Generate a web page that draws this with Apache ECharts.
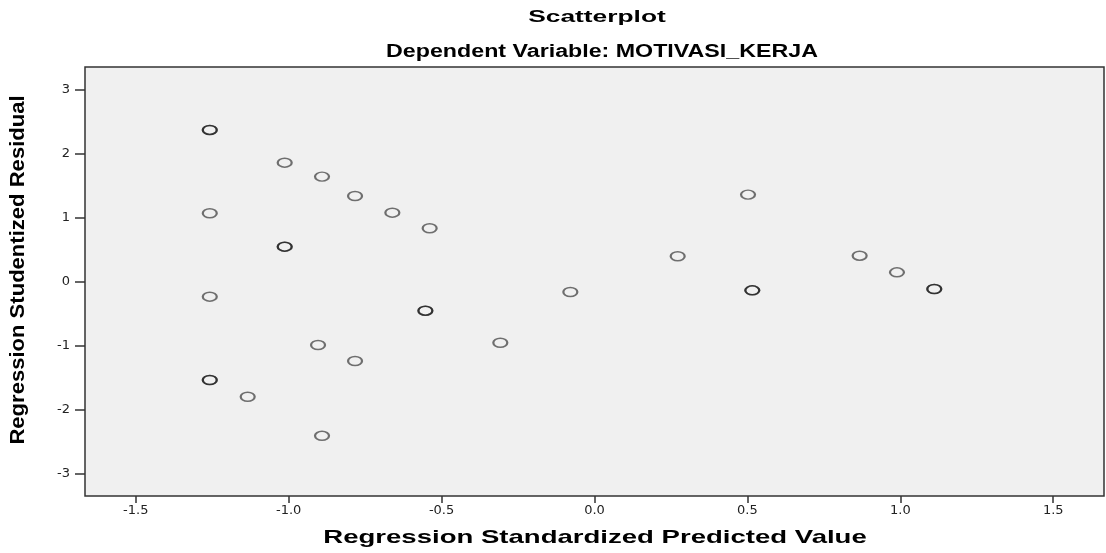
<!DOCTYPE html>
<html>
<head>
<meta charset="utf-8">
<title>Scatterplot</title>
<script src="https://cdn.jsdelivr.net/npm/echarts@6/dist/echarts.min.js"></script>
<style>
  html, body { margin: 0; padding: 0; background: #fff; }
  #chart { width: 1106px; height: 553px; }
</style>
</head>
<body>
<div id="chart"></div>
<script>
// values (repeated pairs = overlapping cases, drawn darker)
const predicted = [
  -1.258, -1.258, -1.258, -1.258, -1.258, -1.258, -1.134,
  -1.013, -0.891, -0.783, -0.661, -0.539, -1.013, -1.013,
  -0.553, -0.553, -0.904, -0.783, -0.308, -0.891,
  -0.079, 0.272, 0.502, 0.516, 0.516, 0.867, 0.989, 1.111, 1.111
];
const residual = [
  2.367, 2.367, 1.066, -0.237, -1.539, -1.539, -1.800,
  1.856, 1.638, 1.336, 1.075, 0.831, 0.544, 0.544,
  -0.456, -0.456, -0.992, -1.242, -0.956, -2.410,
  -0.164, 0.394, 1.357, -0.138, -0.138, 0.403, 0.143, -0.117, -0.117
];
const xTicks = [-1.5, -1.0, -0.5, 0.0, 0.5, 1.0, 1.5];
const yTicks = [-3, -2, -1, 0, 1, 2, 3];

const chartTitle = 'Scatterplot';
const chartSubtitle = 'Dependent Variable: MOTIVASI_KERJA';
const xName = 'Regression Standardized Predicted Value';
const yName = 'Regression Studentized Residual';

const font = 'Arial, "Liberation Sans", sans-serif';
const tickFont = '"DejaVu Sans", Arial, sans-serif';
const points = predicted.map((x, i) => [x, residual[i]]);

// title texts are stretched in the original picture, so scale them
function label(text, x, y, size, scaleX, rotation) {
  return {
    type: 'text',
    x: x,
    y: y,
    rotation: rotation || 0,
    scaleX: scaleX,
    silent: true,
    style: {
      text: text,
      fontFamily: font,
      fontWeight: 'bold',
      fontSize: size,
      fill: '#000',
      textAlign: 'center',
      textVerticalAlign: 'middle'
    }
  };
}

const chart = echarts.init(document.getElementById('chart'));
chart.setOption({
  animation: false,
  backgroundColor: '#fff',
  grid: {
    left: 85,
    top: 67,
    right: 2,
    bottom: 57,
    show: true,
    backgroundColor: '#f0f0f0',
    borderColor: '#333',
    borderWidth: 1.5
  },
  graphic: [
    label(chartTitle, 597, 17, 17, 1.55),
    label(chartSubtitle, 602, 52, 18, 1.29),
    label(xName, 595, 538, 19, 1.45),
    label(yName, 18, 270, 21, 1.05, Math.PI / 2)
  ],
  xAxis: {
    type: 'value',
    min: -1.666,
    max: 1.666,
    axisLine: { show: false, onZero: false },
    splitLine: { show: false },
    axisTick: {
      customValues: xTicks,
      length: 7,
      lineStyle: { color: '#333', width: 1.5 }
    },
    axisLabel: {
      customValues: xTicks,
      formatter: v => v.toFixed(1),
      margin: 8,
      fontFamily: tickFont,
      fontSize: 13,
      color: '#222'
    }
  },
  yAxis: {
    type: 'value',
    min: -3.35,
    max: 3.35,
    axisLine: { show: false, onZero: false },
    splitLine: { show: false },
    axisTick: {
      customValues: yTicks,
      length: 10,
      lineStyle: { color: '#333', width: 1.5 }
    },
    axisLabel: {
      customValues: yTicks,
      formatter: v => String(v),
      margin: 15,
      fontFamily: tickFont,
      fontSize: 13,
      color: '#222'
    }
  },
  series: [{
    type: 'scatter',
    data: points,
    symbol: 'path://M0,50 A50,50 0 1,1 100,50 A50,50 0 1,1 0,50 Z',
    symbolSize: [14, 9],
    itemStyle: {
      color: 'transparent',
      borderColor: 'rgba(0,0,0,0.68)',
      borderWidth: 1.8
    },
    silent: true
  }]
});
</script>
</body>
</html>
